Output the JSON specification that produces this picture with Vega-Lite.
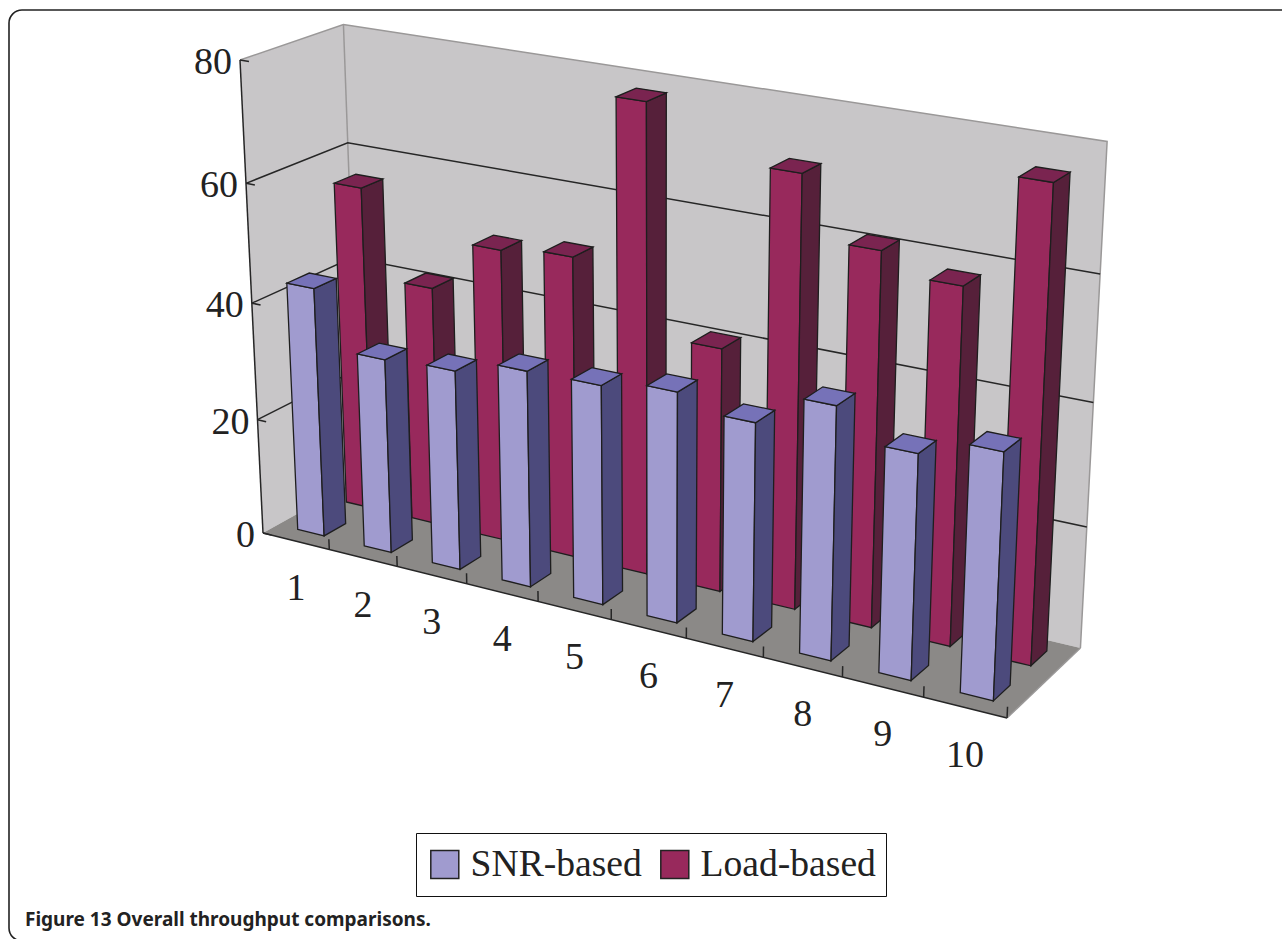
{
  "$schema": "https://vega.github.io/schema/vega-lite/v6.json",
  "width": 1290,
  "height": 931,
  "autosize": "none",
  "padding": {"left": 9, "top": 10, "right": 0, "bottom": 0},
  "background": "white",
  "view": {"cornerRadius": 13, "stroke": "#222222", "strokeWidth": 1.6, "fill": "white"},
  "title": {
    "text": "Figure 13 Overall throughput comparisons.",
    "orient": "bottom",
    "anchor": "start",
    "offset": -30,
    "dx": 16,
    "font": "Noto Sans",
    "fontSize": 19,
    "fontWeight": "bold",
    "color": "#222222"
  },
  "resolve": {"scale": {"fill": "independent"}},
  "datasets": {
    "bars": [
      {"category": 1, "series": "Load-based", "value": 56.1},
      {"category": 2, "series": "Load-based", "value": 41.3},
      {"category": 3, "series": "Load-based", "value": 50},
      {"category": 4, "series": "Load-based", "value": 51.1},
      {"category": 5, "series": "Load-based", "value": 78.1},
      {"category": 6, "series": "Load-based", "value": 40.8},
      {"category": 7, "series": "Load-based", "value": 70.9},
      {"category": 8, "series": "Load-based", "value": 61.1},
      {"category": 9, "series": "Load-based", "value": 57.9},
      {"category": 10, "series": "Load-based", "value": 75.7},
      {"category": 1, "series": "SNR-based", "value": 42.9},
      {"category": 2, "series": "SNR-based", "value": 33.3},
      {"category": 3, "series": "SNR-based", "value": 33.9},
      {"category": 4, "series": "SNR-based", "value": 36.4},
      {"category": 5, "series": "SNR-based", "value": 36.6},
      {"category": 6, "series": "SNR-based", "value": 38.1},
      {"category": 7, "series": "SNR-based", "value": 35.8},
      {"category": 8, "series": "SNR-based", "value": 41.1},
      {"category": 9, "series": "SNR-based", "value": 36.3},
      {"category": 10, "series": "SNR-based", "value": 39.3}
    ],
    "surfaces": [
      {"surface": "back wall", "seq": 0, "position": 0, "depth": 1, "level": 0},
      {"surface": "back wall", "seq": 1, "position": 10, "depth": 1, "level": 0},
      {"surface": "back wall", "seq": 2, "position": 10, "depth": 1, "level": 80},
      {"surface": "back wall", "seq": 3, "position": 0, "depth": 1, "level": 80},
      {"surface": "side wall", "seq": 0, "position": 0, "depth": 0, "level": 0},
      {"surface": "side wall", "seq": 1, "position": 0, "depth": 1, "level": 0},
      {"surface": "side wall", "seq": 2, "position": 0, "depth": 1, "level": 80},
      {"surface": "side wall", "seq": 3, "position": 0, "depth": 0, "level": 80},
      {"surface": "floor", "seq": 0, "position": 0, "depth": 0, "level": 0},
      {"surface": "floor", "seq": 1, "position": 10, "depth": 0, "level": 0},
      {"surface": "floor", "seq": 2, "position": 10, "depth": 1, "level": 0},
      {"surface": "floor", "seq": 3, "position": 0, "depth": 1, "level": 0}
    ],
    "guides": [
      {"id": "rim", "ink": "edge", "seq": 0, "position": 0, "depth": 0, "level": 80},
      {"id": "rim", "ink": "edge", "seq": 1, "position": 0, "depth": 1, "level": 80},
      {"id": "rim", "ink": "edge", "seq": 2, "position": 10, "depth": 1, "level": 80},
      {"id": "rim", "ink": "edge", "seq": 3, "position": 10, "depth": 1, "level": 0},
      {"id": "corner", "ink": "edge", "seq": 0, "position": 0, "depth": 1, "level": 80},
      {"id": "corner", "ink": "edge", "seq": 1, "position": 0, "depth": 1, "level": 0},
      {"id": "grid20", "ink": "axis", "seq": 0, "position": 0, "depth": 0, "level": 20},
      {"id": "grid20", "ink": "axis", "seq": 1, "position": 0, "depth": 1, "level": 20},
      {"id": "grid20", "ink": "axis", "seq": 2, "position": 10, "depth": 1, "level": 20},
      {"id": "grid40", "ink": "axis", "seq": 0, "position": 0, "depth": 0, "level": 40},
      {"id": "grid40", "ink": "axis", "seq": 1, "position": 0, "depth": 1, "level": 40},
      {"id": "grid40", "ink": "axis", "seq": 2, "position": 10, "depth": 1, "level": 40},
      {"id": "grid60", "ink": "axis", "seq": 0, "position": 0, "depth": 0, "level": 60},
      {"id": "grid60", "ink": "axis", "seq": 1, "position": 0, "depth": 1, "level": 60},
      {"id": "grid60", "ink": "axis", "seq": 2, "position": 10, "depth": 1, "level": 60},
      {"id": "valueAxis", "ink": "axis", "seq": 0, "position": 0, "depth": 0, "level": 0},
      {"id": "valueAxis", "ink": "axis", "seq": 1, "position": 0, "depth": 0, "level": 80},
      {"id": "categoryAxis", "ink": "axis", "seq": 0, "position": 0, "depth": 0, "level": 0},
      {"id": "categoryAxis", "ink": "axis", "seq": 1, "position": 10, "depth": 0, "level": 0},
      {"id": "floorEdge", "ink": "edge", "seq": 0, "position": 10, "depth": 0, "level": 0},
      {"id": "floorEdge", "ink": "edge", "seq": 1, "position": 10, "depth": 1, "level": 0},
      {"id": "tv0", "ink": "axis", "seq": 0, "position": 0, "depth": 0, "level": 0},
      {"id": "tv0", "ink": "axis", "seq": 1, "position": 0.13, "depth": 0, "level": 0},
      {"id": "tv20", "ink": "axis", "seq": 0, "position": 0, "depth": 0, "level": 20},
      {"id": "tv20", "ink": "axis", "seq": 1, "position": 0.13, "depth": 0, "level": 20},
      {"id": "tv40", "ink": "axis", "seq": 0, "position": 0, "depth": 0, "level": 40},
      {"id": "tv40", "ink": "axis", "seq": 1, "position": 0.13, "depth": 0, "level": 40},
      {"id": "tv60", "ink": "axis", "seq": 0, "position": 0, "depth": 0, "level": 60},
      {"id": "tv60", "ink": "axis", "seq": 1, "position": 0.13, "depth": 0, "level": 60},
      {"id": "tv80", "ink": "axis", "seq": 0, "position": 0, "depth": 0, "level": 80},
      {"id": "tv80", "ink": "axis", "seq": 1, "position": 0.13, "depth": 0, "level": 80},
      {"id": "tc1", "ink": "axis", "seq": 0, "position": 1, "depth": 0, "level": 0},
      {"id": "tc1", "ink": "axis", "seq": 1, "position": 1, "depth": 0, "level": 1.8},
      {"id": "tc2", "ink": "axis", "seq": 0, "position": 2, "depth": 0, "level": 0},
      {"id": "tc2", "ink": "axis", "seq": 1, "position": 2, "depth": 0, "level": 1.8},
      {"id": "tc3", "ink": "axis", "seq": 0, "position": 3, "depth": 0, "level": 0},
      {"id": "tc3", "ink": "axis", "seq": 1, "position": 3, "depth": 0, "level": 1.8},
      {"id": "tc4", "ink": "axis", "seq": 0, "position": 4, "depth": 0, "level": 0},
      {"id": "tc4", "ink": "axis", "seq": 1, "position": 4, "depth": 0, "level": 1.8},
      {"id": "tc5", "ink": "axis", "seq": 0, "position": 5, "depth": 0, "level": 0},
      {"id": "tc5", "ink": "axis", "seq": 1, "position": 5, "depth": 0, "level": 1.8},
      {"id": "tc6", "ink": "axis", "seq": 0, "position": 6, "depth": 0, "level": 0},
      {"id": "tc6", "ink": "axis", "seq": 1, "position": 6, "depth": 0, "level": 1.8},
      {"id": "tc7", "ink": "axis", "seq": 0, "position": 7, "depth": 0, "level": 0},
      {"id": "tc7", "ink": "axis", "seq": 1, "position": 7, "depth": 0, "level": 1.8},
      {"id": "tc8", "ink": "axis", "seq": 0, "position": 8, "depth": 0, "level": 0},
      {"id": "tc8", "ink": "axis", "seq": 1, "position": 8, "depth": 0, "level": 1.8},
      {"id": "tc9", "ink": "axis", "seq": 0, "position": 9, "depth": 0, "level": 0},
      {"id": "tc9", "ink": "axis", "seq": 1, "position": 9, "depth": 0, "level": 1.8},
      {"id": "tc10", "ink": "axis", "seq": 0, "position": 10, "depth": 0, "level": 0},
      {"id": "tc10", "ink": "axis", "seq": 1, "position": 10, "depth": 0, "level": 1.8}
    ],
    "valueLabels": [
      {"label": "0", "position": 0, "depth": 0, "level": 0},
      {"label": "20", "position": 0, "depth": 0, "level": 20},
      {"label": "40", "position": 0, "depth": 0, "level": 40},
      {"label": "60", "position": 0, "depth": 0, "level": 60},
      {"label": "80", "position": 0, "depth": 0, "level": 80}
    ],
    "categoryLabels": [
      {"label": "1", "position": 0.5, "depth": 0, "level": 0},
      {"label": "2", "position": 1.5, "depth": 0, "level": 0},
      {"label": "3", "position": 2.5, "depth": 0, "level": 0},
      {"label": "4", "position": 3.5, "depth": 0, "level": 0},
      {"label": "5", "position": 4.5, "depth": 0, "level": 0},
      {"label": "6", "position": 5.5, "depth": 0, "level": 0},
      {"label": "7", "position": 6.5, "depth": 0, "level": 0},
      {"label": "8", "position": 7.5, "depth": 0, "level": 0},
      {"label": "9", "position": 8.5, "depth": 0, "level": 0},
      {"label": "10", "position": 9.5, "depth": 0, "level": 0}
    ]
  },
  "encoding": {
    "x": {"field": "sx", "type": "quantitative", "axis": null, "scale": {"domain": [9, 1299], "nice": false, "zero": false}},
    "y": {"field": "sy", "type": "quantitative", "axis": null, "scale": {"domain": [941, 10], "nice": false, "zero": false}}
  },
  "layer": [
    {
      "data": {"name": "surfaces"},
      "transform": [
        {"calculate": "datum.position / 10", "as": "u"},
        {"calculate": "datum.depth", "as": "v"},
        {"calculate": "datum.level / 80", "as": "w"},
        {"calculate": "1 - 0.12 * datum.u + 0.045 * datum.v - 0.055 * datum.w", "as": "h"},
        {"calculate": "(263 + 623.2 * datum.u + 113.2 * datum.v - 36.2 * datum.w) / datum.h", "as": "sx"},
        {"calculate": "(533 + 98.84 * datum.u - 32.45 * datum.v - 476.3 * datum.w) / datum.h", "as": "sy"}
      ],
      "mark": {"type": "line", "filled": true, "interpolate": "linear-closed", "strokeWidth": 0},
      "encoding": {
        "detail": {"field": "surface"},
        "order": {"field": "seq", "type": "quantitative"},
        "fill": {
          "field": "surface",
          "type": "nominal",
          "legend": null,
          "scale": {"domain": ["back wall", "side wall", "floor"], "range": ["#c8c6c8", "#c8c6c8", "#8b8987"]}
        }
      }
    },
    {
      "data": {"name": "guides"},
      "transform": [
        {"calculate": "datum.position / 10", "as": "u"},
        {"calculate": "datum.depth", "as": "v"},
        {"calculate": "datum.level / 80", "as": "w"},
        {"calculate": "1 - 0.12 * datum.u + 0.045 * datum.v - 0.055 * datum.w", "as": "h"},
        {"calculate": "(263 + 623.2 * datum.u + 113.2 * datum.v - 36.2 * datum.w) / datum.h", "as": "sx"},
        {"calculate": "(533 + 98.84 * datum.u - 32.45 * datum.v - 476.3 * datum.w) / datum.h", "as": "sy"}
      ],
      "mark": {"type": "line", "strokeWidth": 1.5},
      "encoding": {
        "detail": {"field": "id"},
        "order": {"field": "seq", "type": "quantitative"},
        "stroke": {
          "field": "ink",
          "type": "nominal",
          "legend": null,
          "scale": {"domain": ["axis", "edge"], "range": ["#262626", "#9a9898"]}
        }
      }
    },
    {
      "data": {"name": "bars"},
      "transform": [
        {"calculate": "['front', 'side', 'top']", "as": "face"},
        {"flatten": ["face"]},
        {"calculate": "[0, 1, 2, 3]", "as": "vertex"},
        {"flatten": ["vertex"]},
        {"calculate": "datum.face === 'front' ? datum.series : datum.series + ' ' + datum.face", "as": "tone"},
        {"calculate": "datum.series + datum.category + datum.face", "as": "prism"},
        {"calculate": "(datum.category - 0.5) / 10 - 0.02", "as": "u0"},
        {"calculate": "datum.u0 + 0.04", "as": "u1"},
        {"calculate": "datum.series === 'SNR-based' ? 0.15 : 0.65", "as": "v0"},
        {"calculate": "datum.v0 + 0.22", "as": "v1"},
        {"calculate": "datum.value / 80", "as": "top"},
        {"calculate": "datum.face === 'side' ? datum.u1 : (datum.vertex === 0 || datum.vertex === 3 ? datum.u0 : datum.u1)", "as": "u"},
        {"calculate": "datum.face === 'front' ? datum.v0 : datum.face === 'side' ? (datum.vertex === 0 || datum.vertex === 3 ? datum.v0 : datum.v1) : (datum.vertex < 2 ? datum.v0 : datum.v1)", "as": "v"},
        {"calculate": "datum.face === 'top' ? datum.top : (datum.vertex < 2 ? 0 : datum.top)", "as": "w"},
        {"calculate": "1 - 0.12 * datum.u + 0.045 * datum.v - 0.055 * datum.w", "as": "h"},
        {"calculate": "(263 + 623.2 * datum.u + 113.2 * datum.v - 36.2 * datum.w) / datum.h", "as": "sx"},
        {"calculate": "(533 + 98.84 * datum.u - 32.45 * datum.v - 476.3 * datum.w) / datum.h", "as": "sy"}
      ],
      "mark": {"type": "line", "filled": true, "interpolate": "linear-closed", "stroke": "#1e1e1e", "strokeWidth": 1.3},
      "encoding": {
        "detail": {"field": "prism"},
        "order": {"field": "vertex", "type": "quantitative"},
        "fill": {
          "field": "tone",
          "type": "nominal",
          "scale": {
            "domain": ["SNR-based", "Load-based", "SNR-based side", "Load-based side", "SNR-based top", "Load-based top"],
            "range": ["#a09bcf", "#98295c", "#4c4a7c", "#56203a", "#7672b8", "#7a2450"]
          },
          "legend": {
            "title": null,
            "values": ["SNR-based", "Load-based"],
            "orient": "none",
            "legendX": 407,
            "legendY": 823,
            "direction": "horizontal",
            "columns": 2,
            "fillColor": "white",
            "strokeColor": "#111111",
            "padding": 10,
            "columnPadding": 14,
            "clipHeight": 43,
            "symbolType": "square",
            "symbolSize": 784,
            "symbolStrokeColor": "#222222",
            "symbolStrokeWidth": 1.5,
            "labelFont": "Liberation Serif",
            "labelFontSize": 37.6,
            "labelColor": "#222222",
            "labelLimit": 300,
            "labelOffset": 7
          }
        }
      }
    },
    {
      "data": {"name": "valueLabels"},
      "transform": [
        {"calculate": "datum.position / 10", "as": "u"},
        {"calculate": "datum.depth", "as": "v"},
        {"calculate": "datum.level / 80", "as": "w"},
        {"calculate": "1 - 0.12 * datum.u + 0.045 * datum.v - 0.055 * datum.w", "as": "h"},
        {"calculate": "(263 + 623.2 * datum.u + 113.2 * datum.v - 36.2 * datum.w) / datum.h", "as": "sx"},
        {"calculate": "(533 + 98.84 * datum.u - 32.45 * datum.v - 476.3 * datum.w) / datum.h", "as": "sy"}
      ],
      "mark": {"type": "text", "align": "right", "baseline": "middle", "dx": -8, "dy": 3, "font": "Liberation Serif", "fontSize": 38, "color": "#222222"},
      "encoding": {"text": {"field": "label"}}
    },
    {
      "data": {"name": "categoryLabels"},
      "transform": [
        {"calculate": "datum.position / 10", "as": "u"},
        {"calculate": "datum.depth", "as": "v"},
        {"calculate": "datum.level / 80", "as": "w"},
        {"calculate": "1 - 0.12 * datum.u + 0.045 * datum.v - 0.055 * datum.w", "as": "h"},
        {"calculate": "(263 + 623.2 * datum.u + 113.2 * datum.v - 36.2 * datum.w) / datum.h", "as": "sx"},
        {"calculate": "(533 + 98.84 * datum.u - 32.45 * datum.v - 476.3 * datum.w) / datum.h", "as": "sy"}
      ],
      "mark": {"type": "text", "align": "center", "baseline": "middle", "dy": 48, "font": "Liberation Serif", "fontSize": 38, "color": "#222222"},
      "encoding": {"text": {"field": "label"}}
    }
  ]
}
